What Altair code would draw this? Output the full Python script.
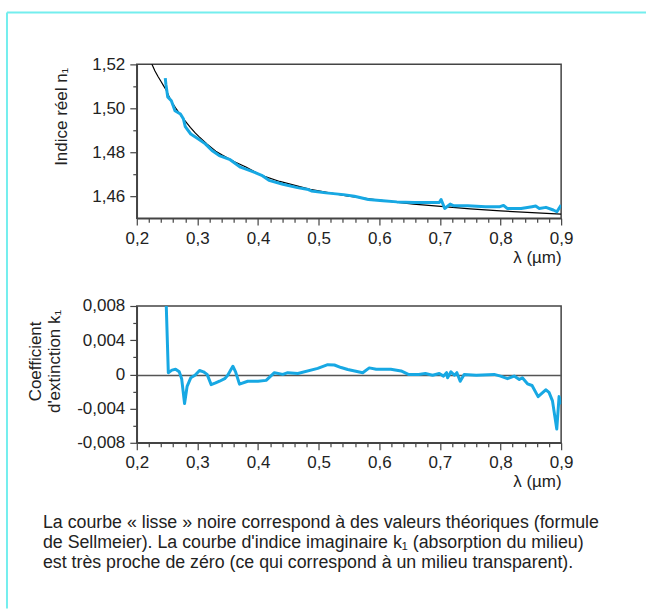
import altair as alt
import pandas as pd

# ---------------- data ----------------
lam_theory = [0.222, 0.225, 0.230, 0.235, 0.240, 0.2443, 0.2486, 0.2537, 0.2594, 0.2652,
              0.2726, 0.2804, 0.2883, 0.2967, 0.3022, 0.3161, 0.3303, 0.3403, 0.3612,
              0.3800, 0.4047, 0.4358, 0.4861, 0.5461, 0.5893, 0.6563, 0.7065, 0.7500,
              0.8000, 0.8521, 0.9000]
n_theory = [1.5222, 1.5200, 1.5170, 1.5145, 1.5122, 1.5102, 1.5083, 1.5050, 1.5022, 1.4997,
            1.4968, 1.4941, 1.4913, 1.4887, 1.4872, 1.4837, 1.4805, 1.4788, 1.4757,
            1.4733, 1.4696, 1.4667, 1.4631, 1.4601, 1.4585, 1.4564, 1.4552, 1.4542,
            1.4533, 1.4525, 1.4518]

lam_n = [0.247, 0.248, 0.251, 0.257, 0.263, 0.272, 0.277, 0.280, 0.289, 0.301,
         0.313, 0.324, 0.336, 0.354, 0.371, 0.389, 0.406, 0.418, 0.441, 0.465,
         0.483, 0.488, 0.512, 0.541, 0.559, 0.582, 0.606, 0.629, 0.658, 0.699,
         0.702, 0.708, 0.717, 0.723, 0.746, 0.775, 0.799, 0.805, 0.811, 0.834,
         0.852, 0.858, 0.864, 0.875, 0.887, 0.893, 0.900]
n_meas = [1.5137, 1.5110, 1.5052, 1.5034, 1.4989, 1.4974, 1.4951, 1.4917, 1.4883, 1.4861,
          1.4838, 1.4808, 1.4785, 1.4766, 1.4732, 1.4714, 1.4695, 1.4672, 1.4654, 1.4639,
          1.4630, 1.4624, 1.4615, 1.4607, 1.4600, 1.4585, 1.4579, 1.4574, 1.4571, 1.4571,
          1.4585, 1.4544, 1.4564, 1.4556, 1.4556, 1.4552, 1.4552, 1.4558, 1.4544, 1.4544,
          1.4552, 1.4555, 1.4544, 1.4549, 1.4537, 1.4529, 1.4559]

lam_k = [0.248, 0.252, 0.258, 0.264, 0.270, 0.274, 0.2788, 0.283, 0.289, 0.296,
         0.3035, 0.310, 0.316, 0.3227, 0.330, 0.3365, 0.345, 0.350, 0.3585, 0.363,
         0.3694, 0.383, 0.400, 0.4134, 0.427, 0.4409, 0.449, 0.4656, 0.4985, 0.515,
         0.526, 0.537, 0.548, 0.5727, 0.5835, 0.595, 0.619, 0.636, 0.648, 0.665,
         0.676, 0.688, 0.699, 0.706, 0.711, 0.7127, 0.7182, 0.724, 0.728, 0.7335,
         0.740, 0.760, 0.7895, 0.800, 0.8115, 0.8225, 0.831, 0.836, 0.8445, 0.852,
         0.862, 0.8746, 0.880, 0.8857, 0.8928, 0.8966, 0.900]
k_meas = [0.0095, 0.0002, 0.0005, 0.0006, 0.0003, -0.0005, -0.0034, -0.0014, -0.0004, -0.0001,
          0.00046, 0.0003, 0.0, -0.0012, -0.0010, -0.0008, -0.0005, -0.0001, 0.00095, 0.0003,
          -0.00114, -0.0008, -0.0008, -0.0007, 0.0002, 0.0, 0.0002, 0.0001, 0.0007, 0.00114,
          0.0011, 0.0008, 0.00057, 0.0002, 0.00076, 0.0006, 0.0006, 0.0004, 0.0, 0.0,
          0.0001, -0.0001, 0.0001, -0.0002, 0.0002, -0.0004, 0.0003, -0.0001, 0.0002, -0.0008,
          0.0, -0.0001, 0.0, -0.0002, -0.0005, -0.0002, -0.0006, -0.0004, -0.0011, -0.0013,
          -0.0026, -0.0018, -0.0021, -0.0031, -0.0064, -0.0026, -0.0035]

x_ticks = [0.20, 0.22, 0.24, 0.26, 0.28, 0.30, 0.32, 0.34, 0.36, 0.38, 0.40, 0.42,
           0.44, 0.46, 0.48, 0.50, 0.52, 0.54, 0.56, 0.58, 0.60, 0.62, 0.64, 0.66,
           0.68, 0.70, 0.72, 0.74, 0.76, 0.78, 0.80, 0.82, 0.84, 0.86, 0.88, 0.90]
n_ticks = [1.46, 1.47, 1.48, 1.49, 1.50, 1.51, 1.52]
k_ticks = [-0.008, -0.006, -0.004, -0.002, 0.0, 0.002, 0.004, 0.006, 0.008]

series_names = ["Sellmeier (théorie)", "mesure"]

caption_lines = [
    "La courbe « lisse » noire correspond à des valeurs théoriques (formule",
    "de Sellmeier). La courbe d'indice imaginaire k₁ (absorption du milieu)",
    "est très proche de zéro (ce qui correspond à un milieu transparent).",
]

# ---------------- styling ----------------
BLUE = "#17a8e3"
FRAME = "#74eeee"
AXIS = "#444444"
FONT = "Liberation Sans"
FS = 17

x_major = "abs(datum.value*10 - round(datum.value*10)) < 0.001"
n_major = "round(datum.value*100) % 2 == 0"
k_major = "round(datum.value*1000) % 4 == 0"


def x_axis():
    return alt.Axis(
        values=x_ticks,
        labelExpr=f"{x_major} ? replace(format(datum.value, '.1f'), '.', ',') : ''",
        tickSize={"condition": {"test": x_major, "value": 7}, "value": 4},
        title="λ (µm)", titleAnchor="end", titlePadding=3,
        labelOverlap=False, labelFlush=False, labelPadding=5, grid=False,
    )


y_axis_top = alt.Axis(
    values=n_ticks,
    labelExpr=f"{n_major} ? replace(format(datum.value, '.2f'), '.', ',') : ''",
    tickSize={"condition": {"test": n_major, "value": 7}, "value": 4},
    title="Indice réel n₁", titleX=-66, titleY=52,
    labelOverlap=False, labelPadding=5, grid=False,
)

y_axis_bot = alt.Axis(
    values=k_ticks,
    labelExpr=(f"{k_major} ? (abs(datum.value) < 1e-9 ? '0' : "
               "replace(replace(format(datum.value, '.3f'), '.', ','), '\u2212', '-')) : ''"),
    tickSize={"condition": {"test": k_major, "value": 7}, "value": 4},
    title=["Coefficient", "d'extinction k₁"], titleX=-92, titleY=55, titleLineHeight=19,
    labelOverlap=False, labelPadding=5,
    grid=True, gridColor="#555555", gridWidth=1.5,
    gridOpacity={"condition": {"test": "abs(datum.value) < 1e-9", "value": 1}, "value": 0},
)

xscale = alt.Scale(domain=[0.2, 0.9], nice=False, zero=False)

df_top = pd.concat([
    pd.DataFrame({"lam": lam_theory, "n": n_theory, "serie": series_names[0]}),
    pd.DataFrame({"lam": lam_n, "n": n_meas, "serie": series_names[1]}),
], ignore_index=True)
df_k = pd.DataFrame({"lam": lam_k, "k": k_meas})
one = pd.DataFrame({"d": [0]})
df_cap = pd.DataFrame({"t": ["\n".join(caption_lines)]})

lines_top = alt.Chart(df_top).mark_line(clip=True, strokeJoin="round").encode(
    x=alt.X("lam:Q", scale=xscale, axis=x_axis()),
    y=alt.Y("n:Q", scale=alt.Scale(domain=[1.45, 1.52], nice=False, zero=False),
            axis=y_axis_top),
    color=alt.Color("serie:N", scale=alt.Scale(domain=series_names, range=["black", BLUE]),
                    legend=None),
    strokeWidth=alt.StrokeWidth("serie:N", scale=alt.Scale(domain=series_names, range=[1.2, 3]),
                                legend=None),
)

frame_top = alt.Chart(one).mark_rule(color=FRAME, strokeWidth=2, clip=False).encode(
    x=alt.value(-130), x2=alt.value(510), y=alt.value(-52))
frame_left = alt.Chart(one).mark_rule(color=FRAME, strokeWidth=2, clip=False).encode(
    x=alt.value(-130), y=alt.value(-52), y2=alt.value(545))

top = alt.layer(lines_top, frame_top, frame_left).properties(width=425, height=154)

meas_k = alt.Chart(df_k).mark_line(color=BLUE, strokeWidth=3, clip=True,
                                   strokeJoin="round").encode(
    x=alt.X("lam:Q", scale=xscale, axis=x_axis()),
    y=alt.Y("k:Q", scale=alt.Scale(domain=[-0.008, 0.008], nice=False, zero=False),
            axis=y_axis_bot),
)
caption = alt.Chart(df_cap).mark_text(
    align="left", baseline="top", lineBreak="\n", fontSize=17.8, lineHeight=20,
    font=FONT, color="#222222", clip=False,
).encode(x=alt.value(-94), y=alt.value(208), text="t:N")

bottom = alt.layer(meas_k, caption).properties(width=425, height=137)

chart = alt.vconcat(top, bottom, spacing=88, bounds="flush").properties(
    padding={"left": 5, "top": 10, "right": 0, "bottom": 0},
    background="white",
).configure_view(
    stroke=AXIS, strokeWidth=1.5,
).configure_axis(
    labelFont=FONT, titleFont=FONT, labelFontSize=FS, titleFontSize=FS,
    labelColor="#222222", titleColor="#222222", titleFontWeight="normal",
    domainColor=AXIS, domainWidth=1.5, tickColor=AXIS, tickWidth=1.2,
)

chart.save("out.html", embed_options={"renderer": "svg", "actions": False})
